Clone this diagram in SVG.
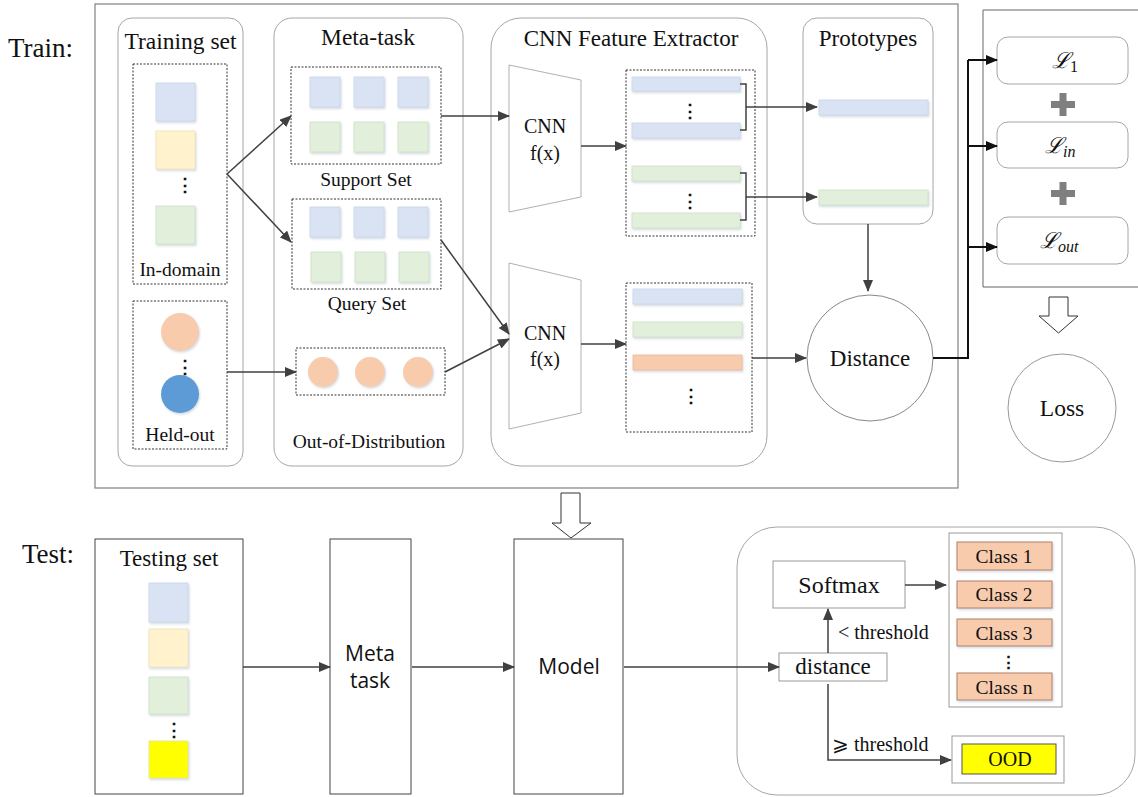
<svg xmlns="http://www.w3.org/2000/svg" width="1138" height="797" viewBox="0 0 1138 797">
<style>
.serif{font-family:"Liberation Serif","Times New Roman",serif;fill:#111}
.sans{font-family:"Open Sans","Liberation Sans",sans-serif;fill:#111}
.cont{fill:#fff;stroke:#a6a6a6;stroke-width:1}
.dot{fill:none;stroke:#333;stroke-width:1;stroke-dasharray:2 1.5}
.blue{fill:#dae3f3;stroke:#c9d6ea;stroke-width:0.8}
.yel{fill:#fff2cc;stroke:#efe0b8;stroke-width:0.8}
.grn{fill:#e2efda;stroke:#cfe0c4;stroke-width:0.8}
.pch{fill:#f8cbad;stroke:#ebb898;stroke-width:0.8}
.conn{fill:none;stroke:#404040;stroke-width:1.5}
.conk{fill:none;stroke:#111;stroke-width:2}
.box{fill:#fff;stroke:#444;stroke-width:1}
.gbox{fill:#fff;stroke:#999;stroke-width:1}
.cls{fill:#f8cbad;stroke:#b0806a;stroke-width:1}
</style>
<defs>
<marker id="ah" markerUnits="userSpaceOnUse" markerWidth="12" markerHeight="10" refX="11" refY="5" orient="auto"><path d="M0,0 L12,5 L0,10 z" fill="#404040"/></marker>
<marker id="ahk" markerUnits="userSpaceOnUse" markerWidth="12" markerHeight="10" refX="11" refY="5" orient="auto"><path d="M0,0 L12,5 L0,10 z" fill="#111"/></marker>
<filter id="sh" x="-20%" y="-20%" width="150%" height="150%"><feDropShadow dx="1" dy="1.5" stdDeviation="1.2" flood-color="#9ab" flood-opacity="0.45"/></filter>
</defs>
<rect width="1138" height="797" fill="#fff"/>

<text class="serif" x="8" y="57" font-size="27">Train:</text>
<text class="serif" x="22" y="563" font-size="27">Test:</text>

<g id="train-frame"><rect x="95" y="4" width="863" height="484" fill="none" stroke="#808080" stroke-width="1.2"/></g>

<g id="training-set">
<rect class="cont" x="118" y="18" width="125" height="448" rx="14"/>
<text class="serif" x="180.5" y="49" font-size="23.5" text-anchor="middle">Training set</text>
<rect class="dot" x="133" y="64" width="94" height="220"/>
<g filter="url(#sh)">
<rect class="blue" x="156" y="83" width="39" height="38"/>
<rect class="yel" x="156" y="131" width="39" height="38"/>
<rect class="grn" x="156" y="206" width="39" height="38"/>
</g>
<text class="serif" x="175.5" y="191" font-size="18" font-weight="bold">⋮</text>
<text class="serif" x="180" y="276" font-size="19.5" text-anchor="middle">In-domain</text>
<rect class="dot" x="133" y="301" width="94" height="148"/>
<g filter="url(#sh)">
<circle cx="180" cy="332" r="19" fill="#f8cbad"/>
<circle cx="180" cy="394" r="19" fill="#5b9bd5"/>
</g>
<text class="serif" x="175.5" y="373" font-size="18" font-weight="bold">⋮</text>
<text class="serif" x="180" y="441" font-size="19.5" text-anchor="middle">Held-out</text>
</g>

<g id="meta-task">
<rect class="cont" x="274" y="18" width="189" height="448" rx="18"/>
<text class="serif" x="368" y="45" font-size="23.5" text-anchor="middle">Meta-task</text>
<rect class="dot" x="291" y="67" width="150" height="97"/>
<g filter="url(#sh)">
<rect class="blue" x="310" y="77" width="30" height="30"/><rect class="blue" x="354" y="77" width="30" height="30"/><rect class="blue" x="398" y="77" width="30" height="30"/>
<rect class="grn" x="310" y="122" width="30" height="30"/><rect class="grn" x="354" y="122" width="30" height="30"/><rect class="grn" x="398" y="122" width="30" height="30"/>
</g>
<text class="serif" x="366" y="186" font-size="19.5" text-anchor="middle">Support Set</text>
<rect class="dot" x="292" y="199" width="149" height="90"/>
<g filter="url(#sh)">
<rect class="blue" x="310" y="207" width="30" height="30"/><rect class="blue" x="354" y="207" width="30" height="30"/><rect class="blue" x="398" y="207" width="30" height="30"/>
<rect class="grn" x="311" y="252" width="30" height="30"/><rect class="grn" x="355" y="252" width="30" height="30"/><rect class="grn" x="399" y="252" width="30" height="30"/>
</g>
<text class="serif" x="367" y="310" font-size="19.5" text-anchor="middle">Query Set</text>
<rect class="dot" x="296" y="348" width="149" height="47"/>
<g filter="url(#sh)">
<circle cx="323" cy="372" r="15" fill="#f8cbad"/><circle cx="370" cy="372" r="15" fill="#f8cbad"/><circle cx="418" cy="372" r="15" fill="#f8cbad"/>
</g>
<text class="serif" x="369" y="448" font-size="19.5" text-anchor="middle">Out-of-Distribution</text>
</g>

<g id="cnn-extractor">
<rect class="cont" x="491" y="18" width="276" height="448" rx="30"/>
<text class="serif" x="631" y="46" font-size="23" text-anchor="middle">CNN Feature Extractor</text>
<polygon points="509,65 581,80 581,197 509,212" fill="#fff" stroke="#b0b0b0"/>
<text class="serif" x="545" y="133" font-size="20" text-anchor="middle">CNN</text>
<text class="serif" x="545" y="160" font-size="20" text-anchor="middle">f(x)</text>
<rect class="dot" x="626" y="70" width="129" height="166"/>
<g filter="url(#sh)">
<rect class="blue" x="632" y="77" width="108" height="14"/>
<rect class="blue" x="632" y="123" width="108" height="15"/>
<rect class="grn" x="632" y="166" width="108" height="15"/>
<rect class="grn" x="632" y="213" width="108" height="15"/>
</g>
<text class="serif" x="680.5" y="117" font-size="18" font-weight="bold">⋮</text>
<text class="serif" x="680.5" y="207" font-size="18" font-weight="bold">⋮</text>
<polygon points="509,263 581,280 581,413 509,429" fill="#fff" stroke="#b0b0b0"/>
<text class="serif" x="545" y="340" font-size="20" text-anchor="middle">CNN</text>
<text class="serif" x="545" y="366" font-size="20" text-anchor="middle">f(x)</text>
<rect class="dot" x="626" y="283" width="126" height="149"/>
<g filter="url(#sh)">
<rect class="blue" x="633" y="289" width="109" height="15"/>
<rect class="grn" x="633" y="322" width="109" height="15"/>
<rect class="pch" x="633" y="355" width="109" height="15"/>
</g>
<text class="serif" x="681.5" y="402" font-size="18" font-weight="bold">⋮</text>
</g>

<g id="prototypes">
<rect class="cont" x="803" y="18" width="130" height="206" rx="14"/>
<text class="serif" x="868" y="46" font-size="23" text-anchor="middle">Prototypes</text>
<g filter="url(#sh)">
<rect class="blue" x="819" y="100" width="109" height="15"/>
<rect class="grn" x="819" y="190" width="109" height="15"/>
</g>
</g>

<g id="distance">
<circle cx="870" cy="358" r="63" fill="#fff" stroke="#888"/>
<text class="serif" x="870" y="366" font-size="23" text-anchor="middle">Distance</text>
</g>

<g id="loss-panel">
<path d="M1138,10 H983 V287 H1138" fill="none" stroke="#666" stroke-width="1"/>
<rect class="cont" x="997" y="37" width="131" height="47" rx="11"/>
<rect class="cont" x="997" y="122" width="131" height="46" rx="11"/>
<rect class="cont" x="997" y="217" width="131" height="47" rx="11"/>
<text class="serif" x="1052" y="68" font-size="22" font-style="italic">ℒ<tspan font-style="normal" font-size="16" dy="4">1</tspan></text>
<text class="serif" x="1045" y="153" font-size="22" font-style="italic">ℒ<tspan font-size="16" dy="4">in</tspan></text>
<text class="serif" x="1040" y="248" font-size="22" font-style="italic">ℒ<tspan font-size="16" dy="4">out</tspan></text>
<g fill="#7f7f7f">
<rect x="1051" y="101" width="24" height="7"/><rect x="1059.5" y="93" width="7" height="23"/>
<rect x="1051" y="190" width="24" height="7"/><rect x="1059.5" y="182" width="7" height="23"/>
</g>
</g>

<g id="loss">
<polygon points="1049,297 1068,297 1068,316 1078,316 1058.5,333 1039,316 1049,316" fill="#fff" stroke="#333" stroke-width="1"/>
<circle cx="1062" cy="408" r="54" fill="#fff" stroke="#999"/>
<text class="serif" x="1062" y="416" font-size="23.5" text-anchor="middle">Loss</text>
</g>

<g id="train-test-arrow">
<polygon points="561,493 580,493 580,523 591,523 571,538 552,523 561,523" fill="#fff" stroke="#333" stroke-width="1"/>
</g>

<g id="testing-set">
<rect class="box" x="95" y="539" width="148" height="255"/>
<text class="serif" x="169" y="566" font-size="23" text-anchor="middle">Testing set</text>
<g filter="url(#sh)">
<rect class="blue" x="149" y="583" width="39" height="39"/>
<rect class="yel" x="149" y="629" width="39" height="38"/>
<rect class="grn" x="149" y="677" width="39" height="37"/>
<rect x="149" y="741" width="39" height="37" fill="#ffff00" stroke="#e6e6a0" stroke-width="0.8"/>
</g>
<text class="serif" x="165" y="736" font-size="18" font-weight="bold">⋮</text>
</g>

<g id="meta-task-test">
<rect class="box" x="330" y="539" width="81" height="255"/>
<text class="sans" x="370" y="661" font-size="21" text-anchor="middle">Meta</text>
<text class="sans" x="370" y="688" font-size="21" text-anchor="middle">task</text>
</g>

<g id="model">
<rect class="box" x="514" y="539" width="109" height="255"/>
<text class="sans" x="569" y="674" font-size="21" text-anchor="middle">Model</text>
</g>

<g id="test-panel">
<rect class="cont" x="737" y="527" width="398" height="268" rx="40"/>
<rect class="gbox" x="773" y="561" width="132" height="47"/>
<text class="serif" x="839" y="593" font-size="24" text-anchor="middle">Softmax</text>
<rect class="gbox" x="779" y="653" width="108" height="28"/>
<text class="serif" x="833" y="674" font-size="23" text-anchor="middle">distance</text>
<rect class="gbox" x="949" y="533" width="113" height="174"/>
<g filter="url(#sh)">
<rect class="cls" x="957" y="542" width="95" height="28"/>
<rect class="cls" x="957" y="581" width="95" height="27"/>
<rect class="cls" x="957" y="619" width="95" height="27"/>
<rect class="cls" x="957" y="673" width="95" height="27"/>
</g>
<text class="serif" x="1004" y="563" font-size="19.5" text-anchor="middle">Class 1</text>
<text class="serif" x="1004" y="601" font-size="19.5" text-anchor="middle">Class 2</text>
<text class="serif" x="1004" y="640" font-size="19.5" text-anchor="middle">Class 3</text>
<text class="serif" x="999.5" y="668" font-size="17" font-weight="bold">⋮</text>
<text class="serif" x="1004" y="694" font-size="19.5" text-anchor="middle">Class n</text>
<rect class="gbox" x="952" y="736" width="112" height="47"/>
<rect x="962" y="744" width="94" height="30" fill="#ffff00" stroke="#555" stroke-width="1"/>
<text class="serif" x="1010" y="766" font-size="20" text-anchor="middle">OOD</text>
<text class="serif" x="838" y="639" font-size="20">&lt; threshold</text>
<text class="serif" x="832" y="751" font-size="20">⩾ threshold</text>
</g>

<g id="connectors">
<path class="conn" d="M227,174 L291,116" marker-end="url(#ah)"/>
<path class="conn" d="M227,174 L291,242" marker-end="url(#ah)"/>
<path class="conn" d="M227,372 L296,372" marker-end="url(#ah)"/>
<path class="conn" d="M441,116 L509,116" marker-end="url(#ah)"/>
<path class="conn" d="M441,240 L509,334" marker-end="url(#ah)"/>
<path class="conn" d="M445,372 L509,339" marker-end="url(#ah)"/>
<path class="conn" d="M581,146 L626,146" marker-end="url(#ah)"/>
<path class="conn" d="M581,344 L626,344" marker-end="url(#ah)"/>
<path class="conn" d="M740,84 H746 V130 H740"/>
<path class="conn" d="M746,107 L817,107" marker-end="url(#ah)"/>
<path class="conn" d="M740,173 H746 V220 H740"/>
<path class="conn" d="M746,197 L817,197" marker-end="url(#ah)"/>
<path class="conn" d="M868,224 L868,291" marker-end="url(#ah)"/>
<path class="conn" d="M752,358 L806,358" marker-end="url(#ah)"/>
<path class="conk" d="M933,358 H968 V60"/>
<path class="conk" d="M968,60 H997" marker-end="url(#ahk)"/>
<path class="conk" d="M968,146 H997" marker-end="url(#ahk)"/>
<path class="conk" d="M968,247 H997" marker-end="url(#ahk)"/>
<path class="conn" d="M243,667 L330,667" marker-end="url(#ah)"/>
<path class="conn" d="M412,667 L514,667" marker-end="url(#ah)"/>
<path class="conn" d="M624,667 L779,667" marker-end="url(#ah)"/>
<path class="conn" d="M828,653 L828,609" marker-end="url(#ah)"/>
<path class="conn" d="M905,585 L946,585" marker-end="url(#ah)"/>
<path class="conn" d="M828,684 V760 H951" marker-end="url(#ah)"/>
</g>
</svg>
